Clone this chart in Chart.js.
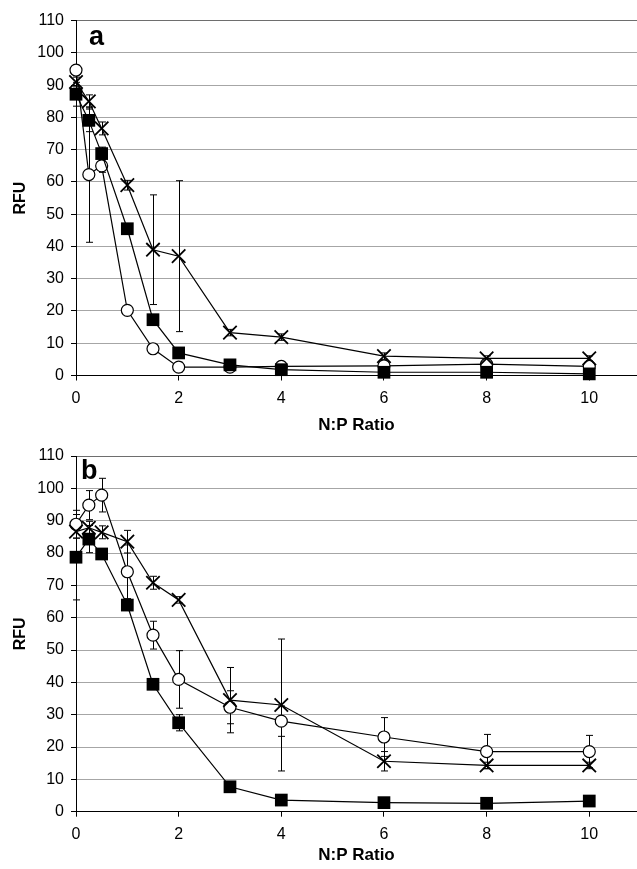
<!DOCTYPE html>
<html>
<head>
<meta charset="utf-8">
<script src="https://cdn.jsdelivr.net/npm/chart.js@4"></script>
<style>
  html, body { margin: 0; padding: 0; background: #fff; }
  body { width: 637px; height: 869px; position: relative; overflow: hidden; }
  .panel { position: absolute; left: 0; width: 637px; }
</style>
</head>
<body>
<div class="panel" id="wrapA" style="top:0;height:436px"><canvas id="chartA"></canvas></div>
<div class="panel" id="wrapB" style="top:435px;height:434px"><canvas id="chartB"></canvas></div>
<script>
// N:P ratios (shared x values)
const ratios = [0, 0.25, 0.5, 1, 1.5, 2, 3, 4, 6, 8, 10];

// panel a
const circleA = [94.7, 62.3, 65.0, 20.2, 8.3, 2.6, 2.6, 2.8, 3.0, 3.5, 2.8];
const squareA = [87.2, 79.1, 68.8, 45.5, 17.3, 7.0, 3.3, 1.8, 1.0, 1.0, 0.5];
const crossA  = [91.0, 85.0, 76.6, 59.0, 39.0, 37.0, 13.3, 11.9, 6.0, 5.3, 5.3];
const circleErrA = [1.5, 21.0, 2.0, 1.2, 1.0, 1.5, 0.8, 0.8, 1.0, 0.8, 0.8];
const squareErrA = [3.7, 3.5, 2.0, 1.5, 1.0, 1.0, 0.8, 0.5, 0.5, 0.5, 0.5];
const crossErrA  = [1.5, 2.0, 2.0, 1.5, 17.0, 23.4, 1.0, 1.0, 1.0, 0.8, 0.8];

// panel b
const circleB = [88.9, 94.8, 97.9, 74.2, 54.6, 40.9, 32.3, 28.0, 23.1, 18.6, 18.6];
const squareB = [78.7, 84.3, 79.7, 63.9, 39.4, 27.5, 7.7, 3.6, 2.8, 2.6, 3.3];
const crossB  = [86.6, 87.8, 86.4, 83.5, 70.8, 65.5, 34.5, 33.0, 15.6, 14.3, 14.3];
const circleErrB = [4.3, 4.5, 5.2, 8.3, 4.3, 8.9, 5.1, 4.7, 6.0, 5.3, 5.0];
const squareErrB = [13.2, 4.2, 0.5, 1.5, 0.5, 2.5, 0.5, 0.5, 0.3, 0.3, 0.3];
const crossErrB  = [2.0, 2.0, 2.0, 3.5, 2.0, 1.0, 10.1, 20.4, 3.0, 1.0, 1.0];

const yTicksMax = 110;
const xTickLabels = [0, 2, 4, 6, 8, 10];

Chart.defaults.font.family = "'Liberation Sans', Arial, sans-serif";
Chart.defaults.color = '#000';

const errorBars = {
    id: 'errorBars',
    beforeDatasetsDraw(chart) {
        const { ctx, scales: { x, y } } = chart;
        ctx.save();
        ctx.strokeStyle = '#000';
        ctx.lineWidth = 1;
        chart.data.datasets.forEach(ds => {
            ds.data.forEach((p, i) => {
                const e = ds.errors[i];
                if (!e) return;
                const px = Math.round(x.getPixelForValue(p.x)) + 0.5;
                const top = y.getPixelForValue(p.y + e);
                const bot = y.getPixelForValue(Math.max(0, p.y - e));
                ctx.beginPath();
                ctx.moveTo(px, top); ctx.lineTo(px, bot);
                ctx.moveTo(px - 3.5, top); ctx.lineTo(px + 3.5, top);
                ctx.moveTo(px - 3.5, bot); ctx.lineTo(px + 3.5, bot);
                ctx.stroke();
            });
        });
        ctx.restore();
    }
};

const panelLabel = {
    id: 'panelLabel',
    afterDraw(chart, args, opts) {
        const { ctx } = chart;
        ctx.save();
        ctx.font = "bold 27px 'Liberation Sans', Arial, sans-serif";
        ctx.fillStyle = '#000';
        ctx.textBaseline = 'alphabetic';
        ctx.fillText(opts.text, opts.x, opts.y);
        ctx.restore();
    }
};

function series(vals, errs, style) {
    const base = {
        data: ratios.map((r, i) => ({ x: r, y: vals[i] })),
        errors: errs,
        borderColor: '#000',
        borderWidth: 1.2,
        tension: 0,
        clip: false,
        pointBorderColor: '#000',
    };
    if (style === 'circle') return { ...base, pointStyle: 'circle', pointRadius: 6, pointBackgroundColor: '#fff', pointBorderWidth: 1.2 };
    if (style === 'rect') return { ...base, pointStyle: 'rect', pointRadius: 9, pointBackgroundColor: '#000', pointBorderWidth: 0 };
    return { ...base, pointStyle: 'crossRot', pointRadius: 9.5, pointBackgroundColor: '#000', pointBorderWidth: 1.8 };
}

function makePanel(id, circles, squares, crosses, cErr, sErr, xErr, lay) {
    return new Chart(document.getElementById(id), {
        type: 'line',
        data: {
            datasets: [
                series(crosses, xErr, 'cross'),
                series(squares, sErr, 'rect'),
                series(circles, cErr, 'circle'),
            ]
        },
        plugins: [errorBars, panelLabel],
        options: {
            responsive: true,
            maintainAspectRatio: false,
            animation: false,
            events: [],
            layout: { autoPadding: false, padding: { top: lay.padTop, left: 0, right: 0, bottom: 0 } },
            plugins: {
                legend: { display: false },
                tooltip: { enabled: false },
                panelLabel: { text: lay.letter, x: lay.letterX, y: lay.letterY },
            },
            scales: {
                x: {
                    type: 'linear',
                    min: 0,
                    max: 10.93,
                    afterBuildTicks: s => { s.ticks = xTickLabels.map(v => ({ value: v })); },
                    afterFit: s => { s.height = lay.xAxisHeight; },
                    ticks: { font: { size: 16 }, padding: 8, maxRotation: 0 },
                    grid: { drawOnChartArea: false, drawTicks: true, tickLength: 5, tickColor: '#000' },
                    border: { color: '#000', width: 1 },
                    title: { display: true, text: 'N:P Ratio', font: { size: 17, weight: 'bold' }, padding: { top: 0, bottom: lay.titlePad } },
                },
                y: {
                    min: 0,
                    max: yTicksMax,
                    afterFit: s => { s.width = 76; },
                    ticks: { stepSize: 10, font: { size: 16 }, padding: 7 },
                    grid: {
                        color: c => c.tick && c.tick.value === yTicksMax ? '#6e6e6e' : '#a6a6a6',
                        lineWidth: 1,
                        tickLength: 5,
                        tickColor: '#000',
                    },
                    border: { color: '#000', width: 1 },
                    title: { display: true, text: 'RFU', font: { size: 16, weight: 'bold' }, padding: { top: 11.4, bottom: 0 } },
                }
            }
        }
    });
}

makePanel('chartA', circleA, squareA, crossA, circleErrA, squareErrA, crossErrA,
    { padTop: 20.7, xAxisHeight: 60.5, titlePad: 0, letter: 'a', letterX: 89, letterY: 45 });
makePanel('chartB', circleB, squareB, crossB, circleErrB, squareErrB, crossErrB,
    { padTop: 21, xAxisHeight: 57.3, titlePad: 3.8, letter: 'b', letterX: 81, letterY: 44 });
</script>
</body>
</html>
